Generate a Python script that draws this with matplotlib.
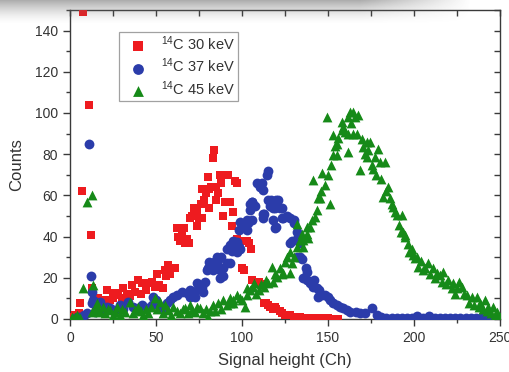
import numpy as np
import matplotlib
matplotlib.use("Agg")
import matplotlib.pyplot as plt
from matplotlib.ticker import MultipleLocator

plt.rcParams["font.family"] = ["Liberation Sans", "DejaVu Sans"]
plt.rcParams["mathtext.fontset"] = "custom"
plt.rcParams["mathtext.rm"] = "Liberation Sans"
plt.rcParams["mathtext.it"] = "Liberation Sans:italic"
plt.rcParams["mathtext.bf"] = "Liberation Sans:bold"

# ---- spectra: channel (signal height) and counts ----
ch_30 = [2, 3, 4, 5, 6, 7, 7.5, 11, 12, 13, 14, 15, 16, 18, 20, 21.5, 23, 25, 26, 28,
         30, 31, 33, 35, 36, 38, 39.5, 41, 42, 44, 45, 47.6, 49.4, 50.6, 52, 54, 55, 56,
         57, 58, 60, 61, 62, 63, 64, 65, 66, 67, 68, 69, 70, 71, 72, 74, 74, 75, 76, 77,
         77, 78, 79, 80, 81, 81, 82, 83, 84, 85, 85, 86, 87, 88, 89, 89, 90, 92, 93, 94,
         95, 96, 97, 97, 99, 100, 101, 103, 104, 105, 106, 108, 110, 112, 113, 114, 115,
         116, 118, 119, 120, 122, 123, 125, 127, 128, 130, 132, 134, 136, 138, 140, 142,
         144, 146, 148, 150, 152, 154, 156]
counts_30 = [1, 2, 1, 3, 8, 62, 149, 104, 41, 15, 9, 7, 10, 8, 9, 14, 9, 10, 12.6, 11.6,
             10, 15, 12, 11, 16.5, 13, 19, 12, 17.4, 14, 17.4, 18, 15.5, 22, 16.5, 15, 24, 21,
             26, 22, 25, 25, 44, 40, 38, 41, 44, 37, 39, 37, 49, 50, 54, 45, 53, 49, 56, 63,
             49, 58, 61, 69, 63, 54, 64, 78, 82, 58, 64, 61, 70, 66, 50, 70, 57, 70, 57, 45,
             52, 67, 39, 66, 38, 25, 24, 38, 37, 34, 19, 17, 18, 17, 8, 8, 7,
             6, 5, 6, 5, 4, 3, 2, 2, 2, 1, 1, 1, 0.5, 0.5, 0.3, 0.3,
             0.3, 0.3, 0.3, 0.3, 0.2, 0.2, 0.2]

ch_37 = [3, 5, 8, 10, 11, 12, 12.5, 13, 13.6, 14.5, 15.5, 17, 17.4, 19.4, 21.3, 23.3, 26,
         29, 31, 34, 36.8, 39.7, 41.6, 44.6, 47.5, 48.4, 50, 52.3, 55.2, 56.2, 58, 60, 62,
         64.9, 67.8, 69.8, 70, 71.7, 72.7, 74, 74.6, 75.6, 77, 77.5, 78.5, 79.5, 80, 81,
         81.4, 82.6, 83.3, 84, 85.3, 85.5, 86.2, 87, 87.2, 88, 89, 89, 91, 91, 93, 93, 94,
         95, 95, 96, 97, 97, 98, 98, 99, 99, 100.6, 100.8, 102.7, 103, 103.5, 104.7, 104.6,
         105.6, 106, 106, 107.6, 108.7, 110.5, 111.6, 112, 112, 112, 113, 114.5, 115, 115,
         116, 117, 118, 118, 119, 119, 120, 120, 121, 122, 123, 123, 124, 126, 128, 128,
         129, 130, 130, 132, 132, 132, 134, 134, 135, 135.5, 137, 137.8, 138, 139.5, 141,
         142, 143.6, 144, 145, 146.5, 148, 150, 151, 153, 155, 157, 158.7, 161, 163, 166,
         168.6, 171.5, 175.6, 178.5, 181, 184, 187, 190, 193, 196, 199, 202, 205, 208, 209,
         212, 215, 218, 221, 224, 227, 230, 233, 236, 239, 242, 245, 248, 250]
counts_37 = [0.5, 1, 2, 3, 85, 21, 8, 13, 9, 3.5, 7.6, 8, 8.4, 3.5, 6, 5.2, 4.3,
             6.8, 5, 8.4, 6, 5.2, 6.8, 5.2, 6.8, 10.8, 9, 6, 4.3, 7.6, 9, 10.8, 11.6,
             13.2, 12.4, 14, 10.7, 11.6, 10.7, 17.4, 14.8, 16.4, 15.5, 13.2, 18, 23.7, 25, 27.6,
             25.3, 25, 23.7, 27.6, 26.1, 30, 28.5, 20, 23.7, 30, 21, 25, 34, 27, 27, 36, 33,
             38, 33.4, 36, 32.5, 37.5, 35, 43, 47, 34, 45.5, 46.3, 48, 43, 46.5, 52.8, 56,
             56.8, 48, 57, 55, 66, 64, 66, 51, 62.5, 49, 51, 70, 72, 58,
             55, 58, 54, 48, 54, 44, 58, 44.6, 58, 54, 54, 49, 49, 50, 49, 37,
             38, 48, 46.5, 42, 39, 30, 37, 30, 29, 20, 25, 19, 23, 17.4, 15.5,
             19, 15, 10.7, 14, 11.6, 11.6, 10.7, 9.2, 7.8, 6.8, 5.8, 5.3, 4.4, 3.4, 3.4,
             2.9, 2.9, 5.3, 1.9, 1, 0.5, 0.5, 0.5, 0.5, 0.5, 0.5, 1.5, 0.5, 0.5, 1.5,
             0.5, 0.3, 0.5, 0.3, 0.5, 0.3, 0.3, 0.5, 0.3, 0.5, 0.3, 0.5, 0.3, 0.3]

ch_45 = [1, 3, 4, 6, 7.7, 9.7, 12.6, 12.6, 13.2, 14, 15.5, 15.5, 17.4, 19, 20.3, 22, 23.3,
         25, 26, 27.5, 29, 30.5, 32, 34.9, 36.8, 38, 39.7, 41, 42.6, 44, 45.5, 47, 49.4,
         50.5, 52.3, 54, 55.2, 57.1, 58.5, 60, 62, 64, 65.5, 66.9, 68.5, 69.8, 71, 72.7,
         74, 75.6, 77.5, 79, 80.4, 81.5, 83.3, 84.5, 86.2, 87.5, 89.1, 91, 93, 93, 95, 95,
         97, 98.8, 99.9, 101.7, 102.7, 102.8, 104.8, 106.6, 106.7, 108, 109.6, 111, 112.5,
         114, 115.4, 117.2, 118.3, 119, 120.2, 122, 123, 124, 125, 125.9, 127.9, 127.9,
         128.9, 130, 131.8, 132, 133.7, 134.7, 135.7, 135.7, 137, 137.6, 137.6, 138.5,
         139.5, 140.5, 141, 142.4, 143.5, 144.4, 145.3, 146, 146.5, 148, 149.2, 150, 151.2,
         152, 153, 153.1, 154, 155, 155, 156, 158, 158, 159, 160, 161.8, 161.8, 161.8,
         162.8, 163.5, 164.7, 164.7, 165.7, 166.7, 167.6, 168.6, 169.6, 170.5, 171.5,
         172.4, 172.5, 173.4, 174.4, 175.3, 176.3, 177.3, 178, 179.2, 180.2, 181, 182.2,
         183.1, 184, 185, 186, 187, 188, 189, 190, 191, 192.2, 192.8, 193.8, 194.8, 195,
         196.7, 197, 198.6, 199.6, 200.6, 201.5, 202.5, 204, 205.4, 206.5, 208.3, 209.5,
         211.2, 212, 213.2, 215.1, 216, 217.1, 218.5, 220, 221.9, 222.9, 224, 224.8, 226,
         227.7, 229, 230.6, 232, 233.5, 235, 236.4, 237.5, 238.4, 240, 241.3, 242.5, 243.2,
         245, 246.1, 247, 248.1, 249, 250]
counts_45 = [1.2, 1, 1.9, 0.5, 15, 57, 60, 3.5, 16.6, 4, 7.6, 5.2, 3.5, 6, 2.7, 5, 4.3,
             2, 3.5, 6, 1.9, 5, 3.5, 8.4, 2.7, 4.5, 6, 4, 1.9, 5, 2.7, 6, 10,
             5, 8.4, 3, 6.8, 4.3, 2, 6, 4, 2.7, 5, 5.2, 3, 6.8, 4.5, 3.5,
             6, 5.2, 2.7, 5, 1.2, 4, 6.8, 4, 7.6, 5, 9.2, 7, 10, 7.6, 7.6, 9.2,
             11.6, 10, 9.2, 6, 14.9, 11.6, 14.1, 15.7, 17.3, 12, 14.1, 17, 15.7,
             19, 17.3, 25.4, 18.2, 22, 20.6, 24.6, 22, 22.2, 27.8, 30.2, 32.6, 22.2,
             27, 30, 46, 35, 38.3, 41.5, 35, 38.3, 40, 44.7, 41.5, 39.1,
             44.7, 48, 67.4, 49.6, 53, 58.5, 58.5, 62, 71, 65, 98, 70, 56,
             75, 79.5, 89.1, 84, 79.5, 85, 88, 95.6, 91.6, 93, 90.7, 98, 89.9, 81,
             100.4, 95, 100.4, 89.9, 98, 89.9, 98.8, 72.2, 87.5, 83.5, 80,
             78.8, 85.9, 81.9, 85.9, 74.6, 72.9, 78.8, 70, 82.7, 76.4, 68, 59.3,
             76.4, 62, 64, 58.5, 56, 54.5, 52, 50.4, 45.6, 42.3, 50.4, 42.3, 39.9, 40.7,
             36.6, 32.6, 34.2, 31, 29.4, 30, 25.4, 28, 23.8, 25, 27, 22,
             24.6, 20, 22.2, 21.3, 18, 23, 17, 18.9, 14.9, 17.3, 12, 14.9, 18,
             15.7, 12, 11.6, 8, 10.8, 7, 10.8, 6, 7.6, 5, 9.2, 4, 5.9,
             3, 5.9, 2, 3.5, 1, 1]

labels = ["$^{14}$C 30 keV", "$^{14}$C 37 keV", "$^{14}$C 45 keV"]
colors = ["#ee1b1f", "#2b3caa", "#168a18"]

x_ticks = [0, 50, 100, 150, 200, 250]
y_ticks = [0, 20, 40, 60, 80, 100, 120, 140]

W, H, DPI = 509, 372, 100
fig = plt.figure(figsize=(W / DPI, H / DPI), dpi=DPI, facecolor="white")
ax = fig.add_axes([70 / W, 1 - 319 / H, 430 / W, 309 / H])

ax.scatter(ch_30, counts_30, marker="s", s=36, color=colors[0], linewidths=0,
           label=labels[0], zorder=3)
ax.scatter(ch_37, counts_37, marker="o", s=50, color=colors[1], linewidths=0,
           label=labels[1], zorder=4)
ax.scatter(ch_45, counts_45, marker="^", s=50, color=colors[2], linewidths=0,
           label=labels[2], zorder=5)

ax.set_xlim(0, 250)
ax.set_ylim(0, 150)
ax.set_xticks(x_ticks)
ax.set_yticks(y_ticks)
ax.xaxis.set_minor_locator(MultipleLocator(25))
ax.yaxis.set_minor_locator(MultipleLocator(10))

spine_col = "#3a3a3a"
for sp in ax.spines.values():
    sp.set_color(spine_col)
    sp.set_linewidth(1.0)

ax.tick_params(which="both", direction="out", colors=spine_col, labelcolor="#333333",
               labelsize=10, top=False, right=False)
ax.tick_params(which="major", length=5, width=1.0)
ax.tick_params(which="minor", length=3, width=1.0)

# inward ticks on the top and right frame edges
top = ax.secondary_xaxis("top")
top.set_xticks(x_ticks)
top.xaxis.set_minor_locator(MultipleLocator(25))
top.tick_params(which="both", direction="in", length=4, width=1.0, colors=spine_col,
                labeltop=False)
top.spines["top"].set_visible(False)
right = ax.secondary_yaxis("right")
right.set_yticks(y_ticks)
right.yaxis.set_minor_locator(MultipleLocator(10))
right.tick_params(which="both", direction="in", length=4, width=1.0, colors=spine_col,
                  labelright=False)
right.spines["right"].set_visible(False)

ax.set_xlabel("Signal height (Ch)", fontsize=12, color="#333333", labelpad=6)
ax.set_ylabel("Counts", fontsize=12, color="#333333", labelpad=8)

leg = ax.legend(loc="upper left", bbox_to_anchor=(0.113, 0.93), scatterpoints=1,
                fontsize=10.5, frameon=True, fancybox=False, edgecolor="#8a8a8a",
                borderpad=0.2, labelspacing=0.25, handletextpad=0.4, handlelength=2.3,
                borderaxespad=0, markerscale=1.1)
leg.get_frame().set_linewidth(0.9)
for t in leg.get_texts():
    t.set_color("#333333")

# soft drop shadow along the top edge of the figure
yy = np.arange(H)[:, None]
xx = np.arange(W)[None, :]
fade_y = np.clip(1 - yy / 24.0, 0, 1) ** 1.6
fade_x = np.clip((470 - xx) / 110.0, 0, 1)
alpha = 0.55 * fade_y * fade_x
overlay = np.zeros((H, W, 4))
overlay[..., :3] = 0.42
overlay[..., 3] = alpha
ov = fig.add_axes([0, 0, 1, 1], zorder=20)
ov.imshow(overlay, aspect="auto", interpolation="bilinear")
ov.axis("off")

fig.savefig("out.png", dpi=DPI, facecolor="white")
